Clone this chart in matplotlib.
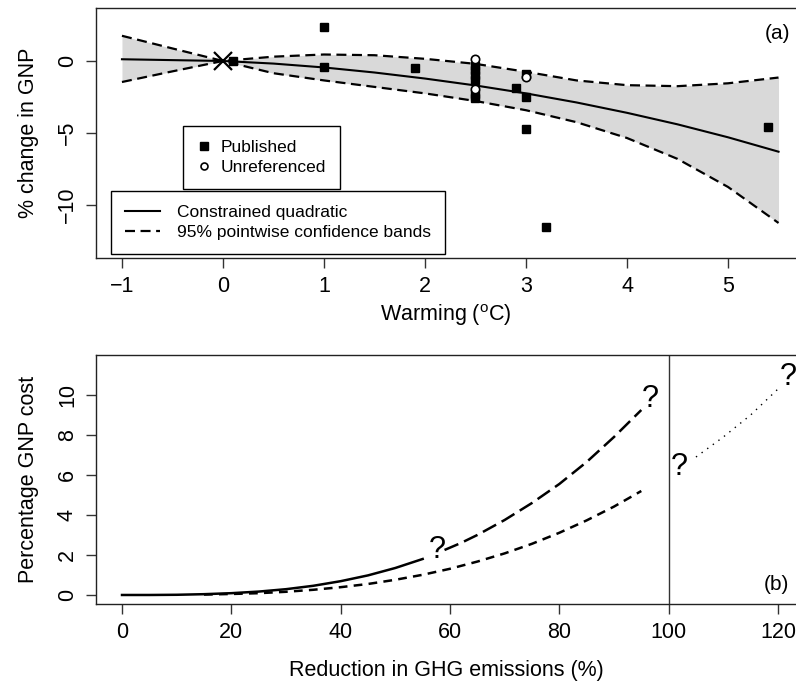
"""
Recreation of the two-panel GNP / warming figure.
"""

import matplotlib
matplotlib.use('Agg')
import matplotlib.pyplot as plt
from matplotlib.lines import Line2D

plt.rcParams['font.family'] = ['Liberation Sans', 'DejaVu Sans']
plt.rcParams['mathtext.default'] = 'regular'

# -------------------------------
# DATA – panel (a)
# -------------------------------

pub_x = [1.0, 1.0, 0.1, 1.9, 2.5, 2.5, 2.5, 2.5, 2.5, 2.5, 2.9, 3.0, 3.0, 3.0, 3.2, 5.4]
pub_y = [2.36, -0.4, 0.0, -0.5, -0.35, -0.65, -0.95, -1.3, -2.3, -2.6, -1.88, -0.9, -2.5, -4.75, -11.5, -4.57]

unref_x = [2.5, 2.5, 3.0]
unref_y = [0.14, -1.94, -1.1]

fit_x     = [-1.0, -0.5, 0.0, 0.5, 1.0, 1.5, 2.0, 2.5, 3.0, 3.5, 4.0, 4.5, 5.0, 5.5]
fit_mid   = [0.12, 0.06, 0.0, -0.18, -0.45, -0.8, -1.22, -1.7, -2.25, -2.88, -3.6, -4.4, -5.3, -6.3]
fit_upper = [1.75, 0.87, 0.0, 0.3, 0.45, 0.4, 0.15, -0.2, -0.75, -1.35, -1.68, -1.75, -1.55, -1.15]
fit_lower = [-1.46, -0.72, 0.0, -0.85, -1.35, -1.8, -2.25, -2.78, -3.42, -4.25, -5.35, -6.8, -8.75, -11.25]

# -------------------------------
# DATA – panel (b)
# -------------------------------

solid_x = [0, 5, 10, 15, 20, 25, 30, 35, 40, 45, 50, 55]
solid_y = [0.0, 0.0, 0.01, 0.04, 0.09, 0.17, 0.29, 0.46, 0.69, 0.98, 1.35, 1.8]

long_x = [59, 62, 65, 70, 75, 80, 85, 90, 95]
long_y = [2.25, 2.6, 3.0, 3.75, 4.6, 5.55, 6.65, 7.9, 9.25]

short_x = [15, 20, 25, 30, 35, 40, 45, 50, 55, 60, 65, 70, 75, 80, 85, 90, 95]
short_y = [0.02, 0.05, 0.09, 0.16, 0.26, 0.39, 0.55, 0.76, 1.01, 1.31, 1.67, 2.08, 2.56, 3.11, 3.73, 4.42, 5.2]

dot_x = [105, 110, 115, 120]
dot_y = [6.9, 7.9, 9.0, 10.3]

qmark_x = [57.7, 96.6, 101.9, 121.8]
qmark_y = [2.25, 9.8, 6.4, 10.9]


def style_axes(ax):
    ax.spines['right'].set_visible(False)
    for s in ['left', 'bottom', 'top']:
        ax.spines[s].set_linewidth(1.0)
        ax.spines[s].set_color('#222222')
    ax.tick_params(direction='out', length=7, width=1, labelsize=15.5, pad=6, color='#333333')
    for lab in ax.get_yticklabels():
        lab.set_rotation(90)
        lab.set_va('center')


fig = plt.figure(figsize=(7.96, 6.83), dpi=100)

# -------------------------------
# PANEL (a)
# -------------------------------
ax1 = fig.add_axes([0.1206, 0.6223, 0.8794, 0.366])
ax1.fill_between(fit_x, fit_lower, fit_upper, color='#d9d9d9', lw=0)
ax1.plot(fit_x, fit_mid, color='black', lw=1.5)
ax1.plot(fit_x, fit_upper, color='black', lw=1.6, dashes=(4.5, 2.5))
ax1.plot(fit_x, fit_lower, color='black', lw=1.6, dashes=(4.5, 2.5))
ax1.plot(pub_x, pub_y, 's', color='black', ms=6, ls='none')
ax1.plot(unref_x, unref_y, 'o', mfc='white', mec='black', mew=1.2, ms=6, ls='none')
ax1.plot([0], [0], 'x', color='black', ms=13, mew=1.6)

ax1.set_xlim(-1.257, 5.673)
ax1.set_ylim(-13.68, 3.68)
ax1.set_xticks([-1, 0, 1, 2, 3, 4, 5])
ax1.set_yticks([-10, -5, 0])
style_axes(ax1)
ax1.set_xlabel('Warming ($^{o}$C)', fontsize=15.5, labelpad=4)
ax1.set_ylabel('% change in GNP', fontsize=15.5, labelpad=13)
ax1.text(5.62, 1.94, '(a)', ha='right', va='center', fontsize=15)

h_pub = Line2D([], [], marker='s', color='black', ls='none', ms=6)
h_unref = Line2D([], [], marker='o', mfc='white', mec='black', mew=1.2, ls='none', ms=5)
leg1 = ax1.legend([h_pub, h_unref], ['Published', 'Unreferenced'],
                  loc='upper left', bbox_to_anchor=(0.124, 0.528), fontsize=12.5,
                  fancybox=False, edgecolor='black', framealpha=1, borderaxespad=0,
                  handlelength=0.8, handletextpad=0.6, borderpad=0.8, labelspacing=0.3)
leg1.get_frame().set_linewidth(1.0)
ax1.add_artist(leg1)

h_fit = Line2D([], [], color='black', lw=1.5)
h_band = Line2D([], [], color='black', lw=1.6, dashes=(4.5, 2.5))
leg2 = ax1.legend([h_fit, h_band], ['Constrained quadratic', '95% pointwise confidence bands'],
                  loc='upper left', bbox_to_anchor=(0.0214, 0.268), fontsize=12.5,
                  fancybox=False, edgecolor='black', framealpha=1, borderaxespad=0,
                  handlelength=2.0, handletextpad=1.0, borderpad=0.8, labelspacing=0.3)
leg2.get_frame().set_linewidth(1.0)

# -------------------------------
# PANEL (b)
# -------------------------------
ax2 = fig.add_axes([0.1206, 0.1157, 0.8794, 0.3645])
ax2.plot(solid_x, solid_y, color='black', lw=1.8)
ax2.plot(long_x, long_y, color='black', lw=1.8, dashes=(6, 2.5))
ax2.plot(short_x, short_y, color='black', lw=1.8, dashes=(3.5, 2.5))
ax2.plot(dot_x, dot_y, color='black', lw=1.0, dashes=(1, 4))
ax2.axvline(100, color='#333333', lw=1.0)
for qx, qy in zip(qmark_x, qmark_y):
    ax2.text(qx, qy, '?', ha='center', va='center', fontsize=22)

ax2.set_xlim(-4.76, 123.3)
ax2.set_ylim(-0.45, 12.0)
ax2.set_xticks([0, 20, 40, 60, 80, 100, 120])
ax2.set_yticks([0, 2, 4, 6, 8, 10])
style_axes(ax2)
ax2.set_xlabel('Reduction in GHG emissions (%)', fontsize=15.5, labelpad=12)
ax2.set_ylabel('Percentage GNP cost', fontsize=15.5, labelpad=13)
ax2.text(122, 0.5, '(b)', ha='right', va='center', fontsize=15)

fig.savefig('out.png', dpi=100)
plt.close(fig)
